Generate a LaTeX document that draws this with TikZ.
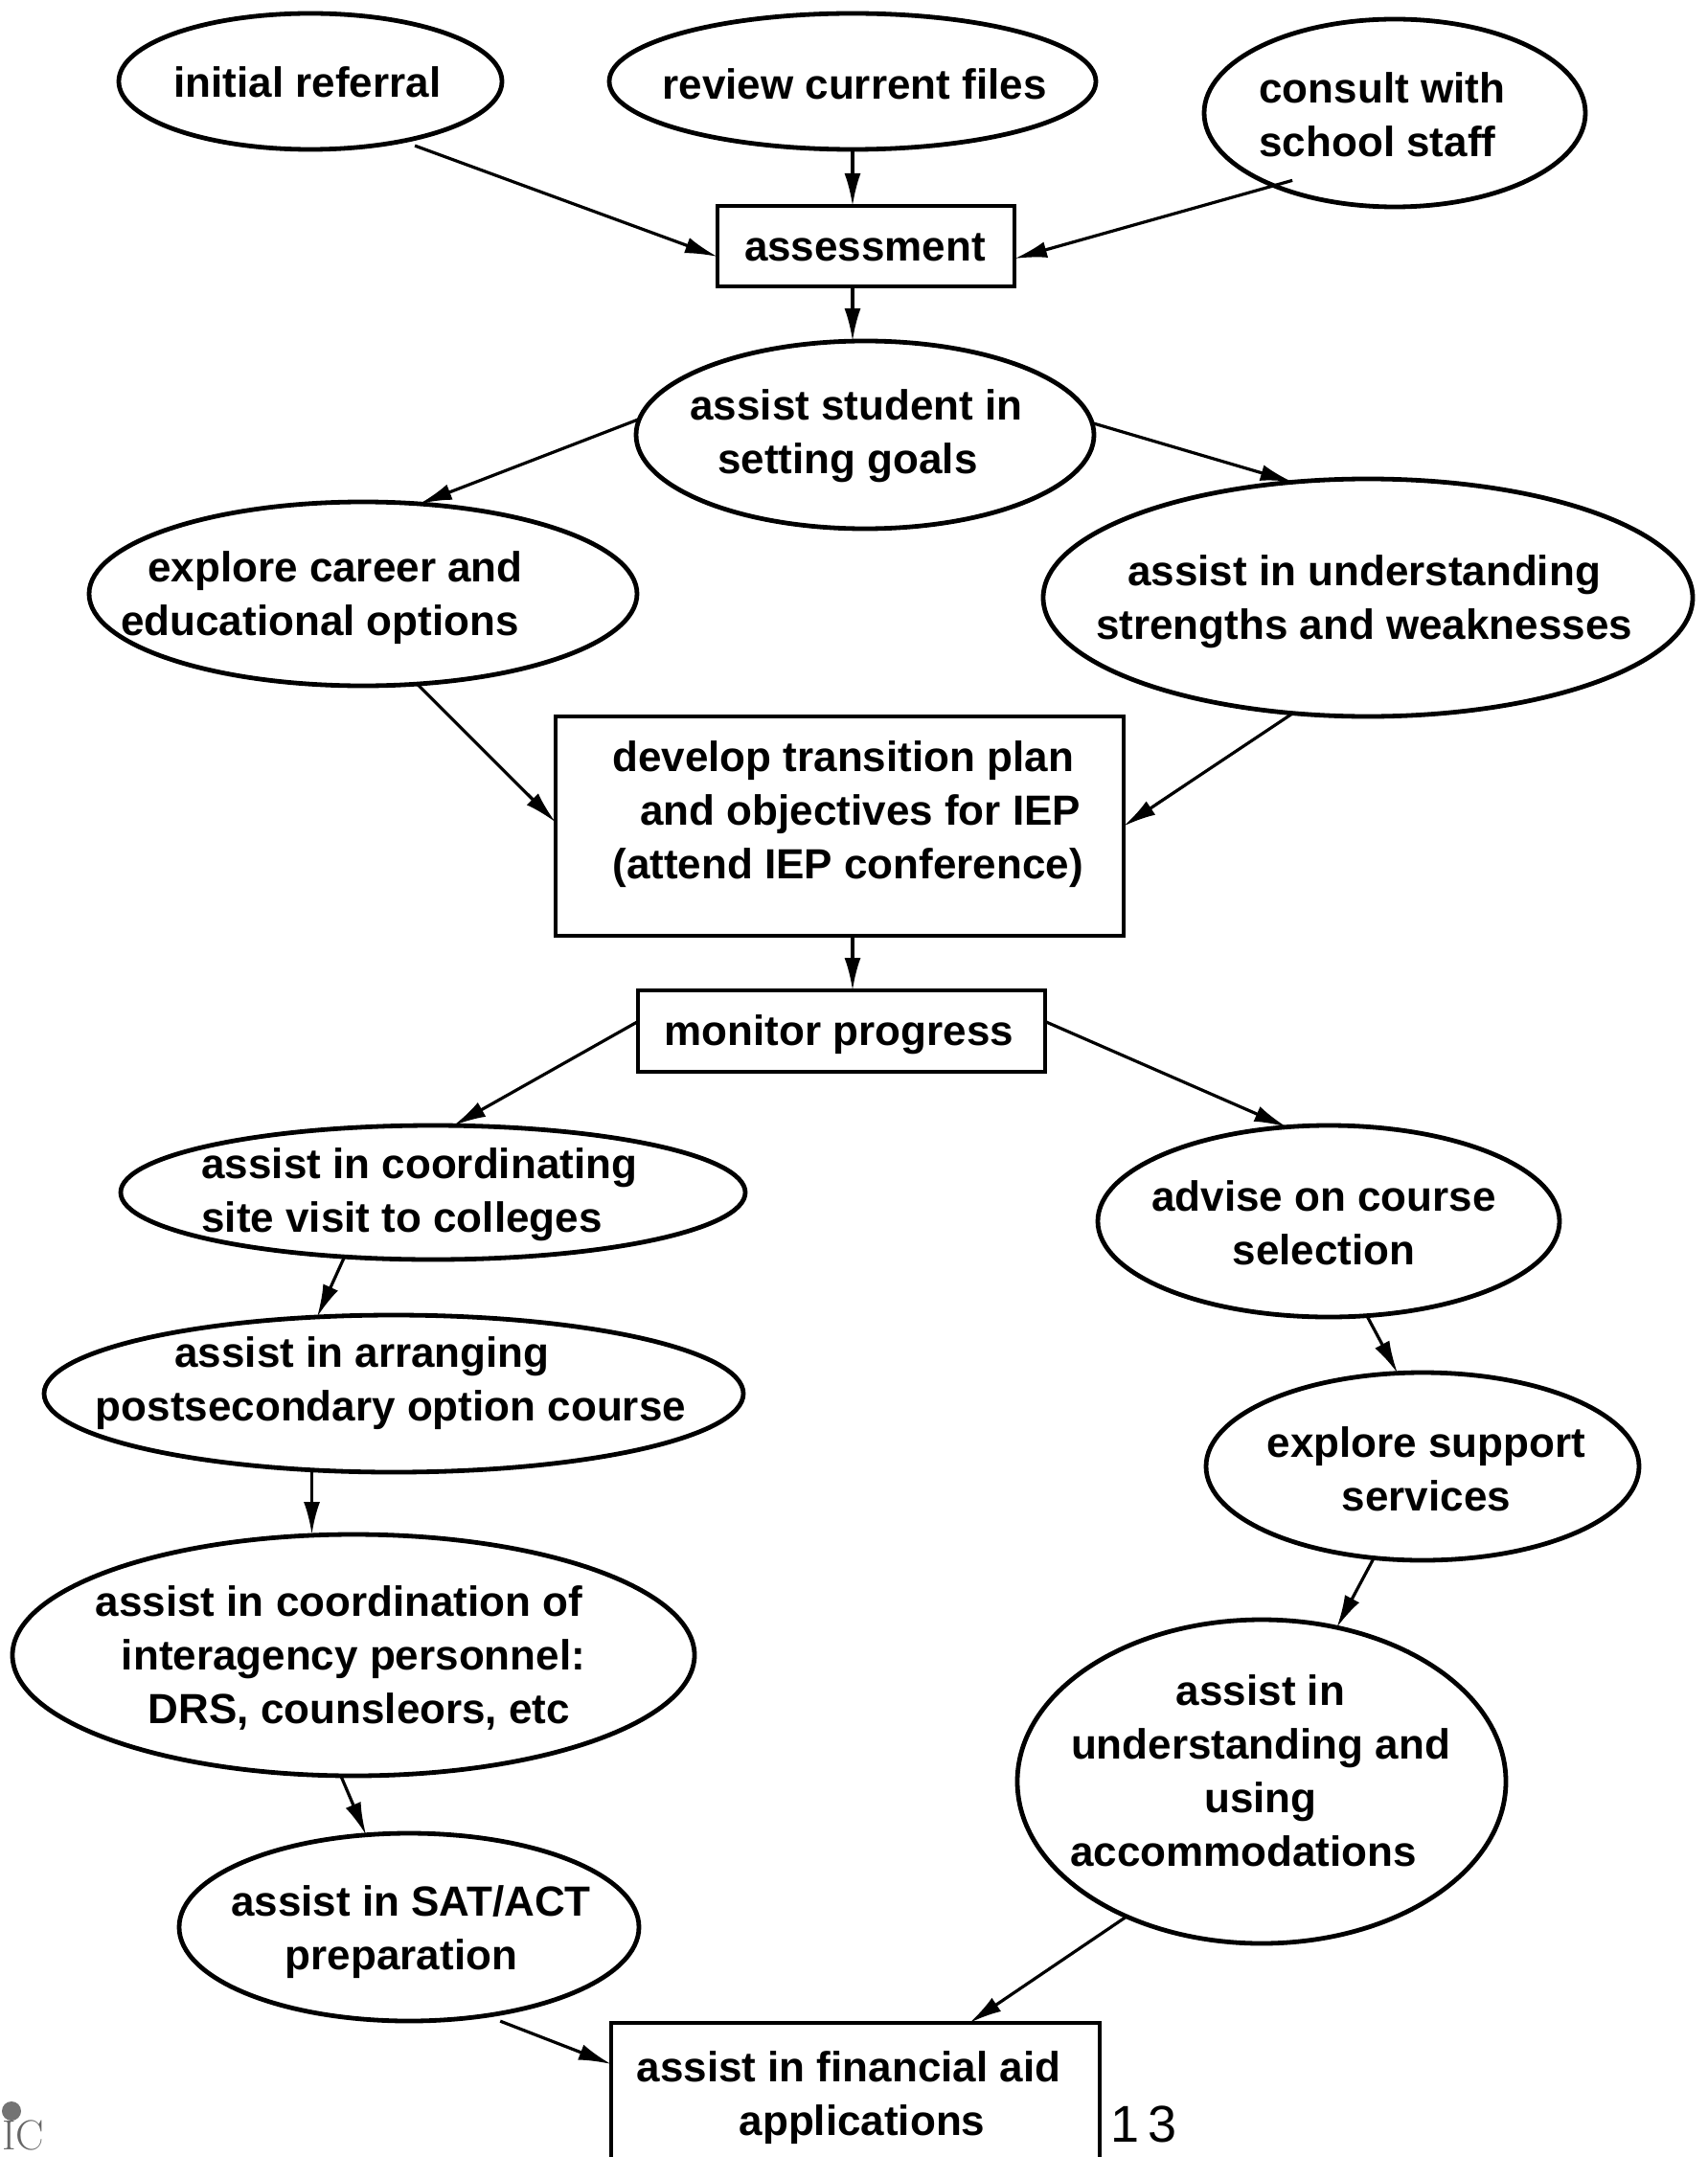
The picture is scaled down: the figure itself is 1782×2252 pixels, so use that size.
\documentclass[tikz,border=0pt]{standalone}
\usepackage{fontspec}
\newfontfamily\sansfnt{Liberation Sans}
\usetikzlibrary{shapes.geometric,arrows.meta,calc}
\newcommand\lbl{\sansfnt\bfseries\fontsize{22pt}{28pt}\selectfont}
\begin{document}
\begin{tikzpicture}[x=0.5pt,y=-0.5pt,
  ell/.style={draw, ellipse, line width=2.4pt, inner sep=0pt, outer sep=0pt},
  box/.style={draw, rectangle, line width=2pt, inner sep=0pt, outer sep=0pt},
  txt/.style={font=\lbl, align=center, inner sep=0pt},
  arr/.style={line width=1.6pt, -{Latex[length=17pt,width=8.5pt]}}]
\useasboundingbox (0,0) rectangle (1782,2252);

% ellipses
\node[ell, minimum width=200pt, minimum height=71pt] (init) at (324,85) {};
\node[ell, minimum width=254pt, minimum height=71pt] (review) at (890,85) {};
\node[ell, minimum width=199pt, minimum height=98pt] (consult) at (1456,118) {};
\node[ell, minimum width=239pt, minimum height=98pt] (goals) at (903,454) {};
\node[ell, minimum width=286pt, minimum height=96pt] (explore) at (379,620) {};
\node[ell, minimum width=339pt, minimum height=124pt] (strengths) at (1428,624) {};
\node[ell, minimum width=326pt, minimum height=70pt] (site) at (452,1245) {};
\node[ell, minimum width=241pt, minimum height=100pt] (advise) at (1387,1275) {};
\node[ell, minimum width=365pt, minimum height=82pt] (arranging) at (411,1455) {};
\node[ell, minimum width=226pt, minimum height=98pt] (support) at (1485,1531) {};
\node[ell, minimum width=356pt, minimum height=126pt] (interagency) at (369,1728) {};
\node[ell, minimum width=255pt, minimum height=169pt] (accom) at (1317,1860) {};
\node[ell, minimum width=240pt, minimum height=98pt] (sat) at (427,2012) {};

% boxes
\node[box, minimum width=155pt, minimum height=42pt] (assess) at (904,257) {};
\node[box, minimum width=296.5pt, minimum height=114.5pt] (develop) at (876.5,862.5) {};
\node[box, minimum width=212.5pt, minimum height=42.5pt] (monitor) at (878.5,1076.5) {};
\node[box, minimum width=255pt, minimum height=72pt] (fin) at (893,2184) {};

% texts
\node[txt] (t-init) at (321,86) {initial referral};
\node[txt] (t-review) at (892,88) {review current files};
\node[txt, align=left, anchor=west] (t-consult) at (1314,120) {consult with\\school staff};
\node[txt] (t-assess) at (903,258) {assessment};
\node[txt] (t-goals) at (894,455) {assist student in\\setting goals\hspace*{9pt}};
\node[txt] (t-explore) at (334,624) {\hspace*{16pt}explore career and\\educational options};
\node[txt] (t-str) at (1424,628) {assist in understanding\\strengths and weaknesses};
\node[txt, align=left, anchor=west] (t-dev) at (639,850) {develop transition plan\\\hspace*{14.5pt}and objectives for IEP\\(attend IEP conference)};
\node[txt] (t-mon) at (876,1080) {monitor progress};
\node[txt, align=left, anchor=west] (t-site) at (210,1247) {assist in coordinating\\site visit to colleges};
\node[txt] (t-adv) at (1382,1277) {advise on course\\selection};
\node[txt] (t-arr) at (408,1444) {assist in arranging\hspace*{30pt}\\postsecondary option course};
\node[txt] (t-sup) at (1489,1534) {explore support\\services};
\node[txt] (t-int) at (354,1731) {assist in coordination of\\\hspace*{15pt}interagency personnel:\\\hspace*{21pt}DRS, counsleors, etc};
\node[txt] (t-acc) at (1316,1849) {assist in\\understanding and\\using\\accommodations\hspace*{18pt}};
\node[txt] (t-sat) at (429,2017) {assist in SAT/ACT\\preparation\hspace*{10pt}};
\node[txt] (t-fin) at (886,2190) {assist in financial aid\\\hspace*{14pt}applications};

% page number and logo fragment
\node[font=\sansfnt\fontsize{27pt}{27pt}\selectfont, inner sep=0pt] (pnum) at (1194,2218) {1\,3};
\node[font=\fontsize{22pt}{22pt}\selectfont, text=black!60, anchor=base west, inner sep=0pt] (eric) at (2,2244) {IC};
\fill[black!55] (12,2204) circle[radius=5pt];

% connectors
\draw[arr, shorten <=7pt] (init.-33) -- ($(assess.west)+(0,11)$);
\draw[arr] (review.south) -- (review.south |- assess.north);
\draw[arr, shorten <=-10pt] (consult.-149) -- ($(assess.east)+(0,13)$);
\draw[arr] (assess.south -| review.south) -- (goals.north -| review.south);
\draw[arr] (goals.176) -- (explore.58);
\draw[arr] (goals.3) -- (strengths.123);
\draw[arr] (explore.-59) -- ($(develop.west)+(0,-4)$);
\draw[arr] (strengths.-123) -- (develop.east);
\draw[arr] (develop.south -| review.south) -- (monitor.north -| review.south);
\draw[arr] ($(monitor.west)+(0,-10)$) -- (site.73);
\draw[arr] ($(monitor.east)+(0,-10)$) -- (advise.114);
\draw[arr] (site.-144) -- (arranging.135);
\draw[arr] (arranging.-137) -- (arranging.-137 |- interagency.north);
\draw[arr] (interagency.-96) -- (sat.115);
\draw[arr] (advise.-68) -- (support.105);
\draw[arr] (support.-118) -- (accom.64);
\draw[arr] (accom.-135) -- ($(fin.north west)+(374,0)$);
\draw[arr, shorten <=8pt] (sat.-49) -- ($(fin.north west)+(0,43)$);
\end{tikzpicture}
\end{document}
